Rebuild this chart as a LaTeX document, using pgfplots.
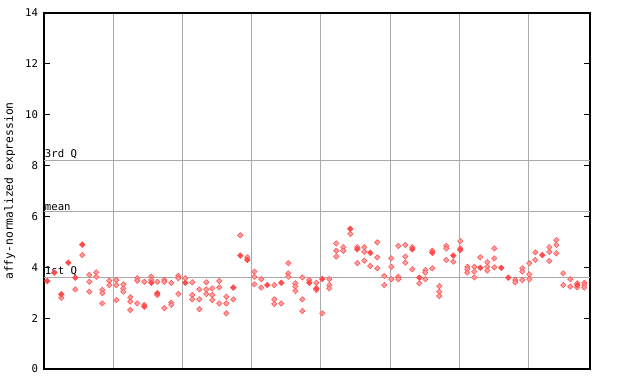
\documentclass[border=0pt]{standalone}
\usepackage{fontspec}
\setmainfont{DejaVu Sans Mono}
\usepackage{pgfplots}
\pgfplotsset{compat=1.18}
\definecolor{solidred}{HTML}{FF4D4D}
\definecolor{lightred}{HTML}{FF9C9C}
\definecolor{gridgray}{HTML}{AAAAAA}
\begin{document}
\begin{tikzpicture}
\begin{axis}[
  at={(33pt,11.25pt)}, anchor=south west,
  scale only axis, width=409.5pt, height=267pt,
  xmin=44, xmax=590, ymin=0, ymax=14,
  xtick={113.6,182.5,251.8,320.7,390,459,528}, xticklabels={},
  xmajorgrids, xtick style={draw=none},
  grid style={color=gridgray, line width=0.6pt},
  ytick={0,2,4,6,8,10,12,14}, ytick pos=both, tick align=inside,
  major tick length=4.5pt,
  ytick style={line width=0.6pt, color=black},
  /pgf/number format/assume math mode=true,
  yticklabel style={font=\fontsize{8}{9.6}\selectfont, xshift=-1pt},
  extra y ticks={3.62,6.20,8.21}, extra y tick labels={},
  extra y tick style={ymajorgrids=true, major tick length=0pt},
  axis line style={line width=0.8pt},
  ylabel={affy-normalized expression},
  ylabel style={at={(axis description cs:-0.063,0.5)}, anchor=center, font=\fontsize{8.5}{10}\selectfont},
  clip=false,
]
\addplot[only marks, mark=square*, mark size=1.45pt, mark options={rotate=45, fill=lightred, draw=solidred, line width=0.35pt}] coordinates {
(61.3,2.80) (75.3,3.13) (82.3,4.48)
(89.3,3.70) (89.3,3.43) (89.3,3.04)
(96.3,3.80) (96.3,3.63)
(102.3,3.11) (102.3,2.98) (102.3,2.58)
(109.3,3.47) (109.3,3.30)
(116.3,3.50) (116.3,3.30) (116.3,2.71)
(123.3,3.33) (123.3,3.17) (123.3,3.04)
(130.3,2.82) (130.3,2.65) (130.3,2.32)
(137.3,3.57) (137.3,3.47) (137.3,2.58)
(144.3,3.43) (144.3,2.52)
(151.3,3.63) (151.3,3.50)
(157.3,3.43) (157.3,2.91)
(164.3,3.50) (164.3,3.43) (164.3,2.39)
(171.3,3.39) (171.3,2.61) (171.3,2.52)
(178.3,3.66) (178.3,3.57) (178.3,2.95)
(185.3,3.57)
(192.3,3.41) (192.3,2.91) (192.3,2.74)
(199.3,3.13) (199.3,2.74) (199.3,2.35)
(206.3,3.41) (206.3,3.13) (206.3,2.95)
(212.3,3.17) (212.3,2.91) (212.3,2.71)
(219.3,3.46) (219.3,3.21) (219.3,2.58)
(226.3,2.84) (226.3,2.58) (226.3,2.19)
(233.3,2.74)
(240.3,5.26)
(247.3,4.39)
(254.3,3.83) (254.3,3.63) (254.3,3.33)
(261.3,3.53) (261.3,3.20)
(274.3,3.30) (274.3,2.74) (274.3,2.56)
(281.3,2.58)
(288.3,4.16) (288.3,3.76) (288.3,3.63)
(295.3,3.37) (295.3,3.24) (295.3,3.07)
(302.3,3.60) (302.3,2.74) (302.3,2.28)
(309.3,3.50)
(316.3,3.39) (316.3,3.11)
(322.3,2.19)
(329.3,3.53) (329.3,3.30) (329.3,3.17)
(336.3,4.94) (336.3,4.65) (336.3,4.42)
(343.3,4.79) (343.3,4.65)
(350.3,5.31)
(357.3,4.79) (357.3,4.16)
(364.3,4.79) (364.3,4.61) (364.3,4.26)
(370.3,4.05)
(377.3,4.98) (377.3,4.39) (377.3,3.96)
(384.3,3.66) (384.3,3.30)
(391.3,4.35) (391.3,4.02) (391.3,3.53)
(398.3,4.84) (398.3,3.63) (398.3,3.53)
(405.3,4.88) (405.3,4.42) (405.3,4.18)
(412.3,4.79) (412.3,3.92)
(419.3,3.37)
(425.3,3.89) (425.3,3.79) (425.3,3.53)
(432.3,4.65) (432.3,3.96)
(439.3,3.26) (439.3,3.04) (439.3,2.87)
(446.3,4.84) (446.3,4.74) (446.3,4.29)
(453.3,4.22)
(460.3,5.03) (460.3,4.74)
(467.3,4.02) (467.3,3.92) (467.3,3.79)
(474.3,4.02) (474.3,3.83) (474.3,3.60)
(480.3,4.39)
(487.3,4.20) (487.3,4.02) (487.3,3.87)
(494.3,4.74) (494.3,4.35) (494.3,4.00)
(515.3,3.50) (515.3,3.41)
(522.3,3.96) (522.3,3.83) (522.3,3.50)
(529.3,4.16) (529.3,3.72) (529.3,3.53)
(535.3,4.59) (535.3,4.29)
(549.3,4.79) (549.3,4.61) (549.3,4.25)
(556.3,5.07) (556.3,4.88) (556.3,4.55)
(563.3,3.76) (563.3,3.30)
(570.3,3.53) (570.3,3.24)
(577.3,3.37) (577.3,3.21)
(584.3,3.39) (584.3,3.30) (584.3,3.20)
};
\addplot[only marks, mark=square*, mark size=1.5pt, mark options={rotate=45, fill=solidred, draw=solidred}] coordinates {
(47.3,3.46) (54.3,3.79) (61.3,2.94) (68.3,4.18) (75.3,3.59) (82.3,4.89)
(144.3,2.45) (151.3,3.39) (157.3,2.98) (185.3,3.39) (233.3,3.20)
(240.3,4.46) (247.3,4.29) (267.3,3.30) (281.3,3.39) (309.3,3.39)
(316.3,3.17) (322.3,3.54) (350.3,5.51) (357.3,4.71) (370.3,4.57)
(412.3,4.71) (419.3,3.59) (432.3,4.57) (453.3,4.46) (460.3,4.68)
(480.3,3.98) (501.3,3.98) (508.3,3.59) (542.3,4.48) (577.3,3.30)
};
\node[anchor=south west, inner sep=0.5pt, font=\fontsize{8}{9.6}\selectfont] at (axis cs:44,8.21) {3rd Q};
\node[anchor=south west, inner sep=0.5pt, font=\fontsize{8}{9.6}\selectfont] at (axis cs:44,6.20) {mean};
\node[anchor=south west, inner sep=0.5pt, font=\fontsize{8}{9.6}\selectfont] at (axis cs:44,3.62) {1st Q};
\end{axis}
\pgfresetboundingbox
\path[use as bounding box] (0,0) rectangle (480pt,288pt);
\end{tikzpicture}
\end{document}
